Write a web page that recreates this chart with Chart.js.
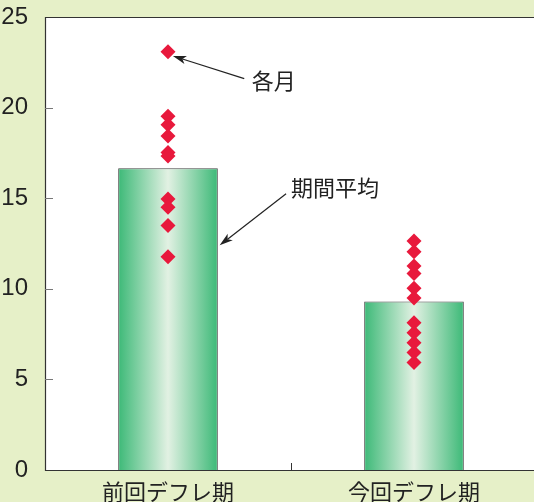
<!DOCTYPE html>
<html>
<head>
<meta charset="utf-8">
<script src="https://cdn.jsdelivr.net/npm/chart.js@4/dist/chart.umd.min.js"></script>
<style>
  html, body { margin: 0; padding: 0; background: #e6f0c8; }
  #wrap { width: 534px; height: 502px; position: relative; }
</style>
</head>
<body>
<div id="wrap"><canvas id="chart"></canvas></div>
<script>
const categories = ["前回デフレ期", "今回デフレ期"];
const periodAverage = [16.65, 9.3];
const monthlyPrev = [23.08, 19.52, 19.06, 18.43, 17.52, 17.33, 14.96, 14.5, 13.5, 11.77];
const monthlyNow = [12.64, 12.04, 11.26, 10.85, 10.03, 9.49, 8.12, 7.57, 7.02, 6.48, 5.93];
const yTicks = [0, 5, 10, 15, 20, 25];

// callouts: text position (category index, value), arrow from -> to
const callouts = [
	{ text: "各月", x: 0.34, y: 21.5, from: [0.31, 21.6], to: [0.02, 22.85] },
	{ text: "期間平均", x: 0.5, y: 15.6, from: [0.48, 15.25], to: [0.21, 12.4] }
];

let monthPoints = [];
monthlyPrev.forEach(v => monthPoints.push({ x: categories[0], y: v }));
monthlyNow.forEach(v => monthPoints.push({ x: categories[1], y: v }));

function barGradient(context) {
	let chart = context.chart;
	let area = chart.chartArea;
	if (!area) return "#3dba78";
	let meta = chart.getDatasetMeta(context.datasetIndex);
	let el = meta.data[context.dataIndex];
	let xs = chart.scales.x;
	let cx = xs.getPixelForValue(context.dataIndex);
	let w = el && el.width ? el.width : 100;
	let g = chart.ctx.createLinearGradient(cx - w / 2, 0, cx + w / 2, 0);
	g.addColorStop(0, "#3cb977");
	g.addColorStop(0.5, "#e2f1e3");
	g.addColorStop(1, "#3cb977");
	return g;
}

// the plot box runs a little past the right edge of the picture
const stretchPlugin = {
	id: "stretch",
	afterLayout(chart) {
		let xs = chart.scales.x;
		let extra = chart.width + 3 - xs.right;
		if (extra <= 0) return;
		xs.right += extra;
		xs.width += extra;
		chart.chartArea.right += extra;
		chart.chartArea.width = chart.chartArea.right - chart.chartArea.left;
		xs.configure();
	}
};

const framePlugin = {
	id: "frame",
	afterDatasetsDraw(chart) {
		let ctx = chart.ctx;
		let a = chart.chartArea;
		let xs = chart.scales.x, ys = chart.scales.y;
		let right = chart.width;
		ctx.save();
		ctx.strokeStyle = "#333";
		ctx.lineWidth = 1.2;
		ctx.beginPath();
		ctx.moveTo(right, a.top + 0.5);
		ctx.lineTo(a.left + 0.5, a.top + 0.5);
		ctx.lineTo(a.left + 0.5, a.bottom + 0.5);
		ctx.lineTo(right, a.bottom + 0.5);
		ctx.stroke();
		// inward ticks
		ctx.strokeStyle = "#777";
		ctx.lineWidth = 1;
		ctx.beginPath();
		yTicks.forEach(t => {
			if (t === 0 || t === 25) return;
			let y = Math.round(ys.getPixelForValue(t)) + 0.5;
			ctx.moveTo(a.left, y);
			ctx.lineTo(a.left + 8, y);
		});
		ctx.stroke();
		ctx.strokeStyle = "#333";
		ctx.beginPath();
		let mx = Math.round(xs.getPixelForValue(0.5)) + 0.5;
		ctx.moveTo(mx, a.bottom);
		ctx.lineTo(mx, a.bottom - 7);
		ctx.stroke();

		// callouts
		ctx.font = "22px 'Noto Sans CJK JP'";
		ctx.fillStyle = "#222";
		ctx.textBaseline = "middle";
		ctx.textAlign = "left";
		callouts.forEach(c => {
			ctx.fillText(c.text, xs.getPixelForValue(c.x), ys.getPixelForValue(c.y));
			let x1 = xs.getPixelForValue(c.from[0]), y1 = ys.getPixelForValue(c.from[1]);
			let x2 = xs.getPixelForValue(c.to[0]), y2 = ys.getPixelForValue(c.to[1]);
			let ang = Math.atan2(y2 - y1, x2 - x1);
			ctx.strokeStyle = "#222";
			ctx.lineWidth = 1.2;
			ctx.beginPath();
			ctx.moveTo(x1, y1);
			ctx.lineTo(x2 - 10 * Math.cos(ang), y2 - 10 * Math.sin(ang));
			ctx.stroke();
			ctx.beginPath();
			ctx.moveTo(x2, y2);
			ctx.lineTo(x2 - 14 * Math.cos(ang - 0.3), y2 - 14 * Math.sin(ang - 0.3));
			ctx.lineTo(x2 - 10 * Math.cos(ang), y2 - 10 * Math.sin(ang));
			ctx.lineTo(x2 - 14 * Math.cos(ang + 0.3), y2 - 14 * Math.sin(ang + 0.3));
			ctx.closePath();
			ctx.fill();
		});
		ctx.restore();
	}
};

const bgPlugin = {
	id: "plotbg",
	beforeDraw(chart) {
		let ctx = chart.ctx, a = chart.chartArea;
		ctx.save();
		ctx.fillStyle = "#e6f0c8";
		ctx.fillRect(0, 0, chart.width, chart.height);
		ctx.fillStyle = "#ffffff";
		ctx.fillRect(a.left, a.top, chart.width - a.left, a.bottom - a.top);
		ctx.restore();
	}
};

new Chart(document.getElementById("chart"), {
	data: {
		labels: categories,
		datasets: [
			{
				type: "line",
				data: monthPoints,
				showLine: false,
				pointStyle: "rectRot",
				pointRadius: 7.5,
				pointBackgroundColor: "#e8193c",
				pointBorderWidth: 0,
				order: 0
			},
			{
				type: "bar",
				data: periodAverage,
				backgroundColor: barGradient,
				borderColor: "#444",
				borderWidth: 1,
				borderSkipped: "bottom",
				categoryPercentage: 1,
				barPercentage: 0.405,
				order: 1
			}
		]
	},
	options: {
		responsive: true,
		maintainAspectRatio: false,
		animation: false,
		layout: { autoPadding: false, padding: { top: 17, right: 0, left: 0, bottom: 0 } },
		plugins: { legend: { display: false }, tooltip: { enabled: false } },
		scales: {
			x: {
				type: "category",
				offset: true,
				grid: { display: false },
				border: { display: false },
				ticks: {
					color: "#222",
					padding: 0,
					font: { family: "'Noto Sans CJK JP'", size: 22 }
				},
				afterFit(s) { s.height = 32; s.paddingLeft = 0; s.paddingRight = 0; }
			},
			y: {
				min: 0,
				max: 25,
				grid: { display: false },
				border: { display: false },
				ticks: {
					stepSize: 5,
					color: "#222",
					padding: 9,
					font: { family: "'Liberation Sans', Arial", size: 24 }
				},
				afterFit(s) { s.width = 45; s.paddingTop = 0; s.paddingBottom = 0; }
			}
		}
	},
	plugins: [stretchPlugin, bgPlugin, framePlugin]
});
</script>
</body>
</html>
